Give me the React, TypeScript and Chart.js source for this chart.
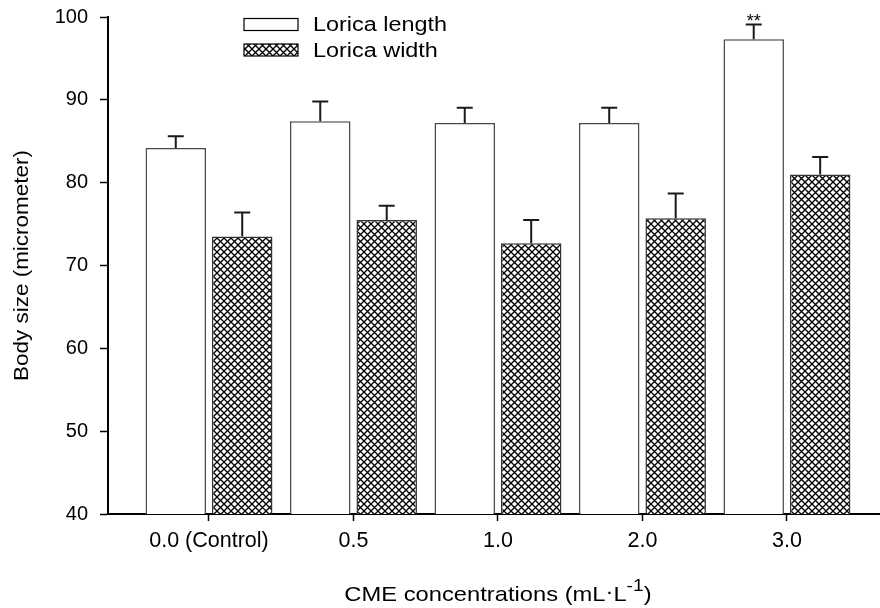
import React, { useEffect, useRef } from "react";
import { Chart, registerables } from "chart.js";

Chart.register(...registerables);

const categories = ["0.0 (Control)", "0.5", "1.0", "2.0", "3.0"];
const loricaLength = [84.2, 87.4, 87.2, 87.2, 97.3];
const loricaLengthErr = [1.4, 2.4, 1.85, 1.85, 1.8];
const loricaWidth = [73.5, 75.5, 72.7, 75.7, 81.0];
const loricaWidthErr = [2.9, 1.7, 2.8, 3.0, 2.1];
const significance = ["", "", "", "", "**"];
const yTicks = [40, 50, 60, 70, 80, 90, 100];
const seriesNames = ["Lorica length", "Lorica width"];
const yTitle = "Body size (micrometer)";

const FAMILY = "'Liberation Sans', Arial, Helvetica, sans-serif";

function makeHatch(ctx: CanvasRenderingContext2D): CanvasPattern | string {
  const s = 7;
  const c = document.createElement("canvas");
  c.width = s;
  c.height = s;
  const g = c.getContext("2d");
  if (!g) return "#888";
  g.fillStyle = "#ffffff";
  g.fillRect(0, 0, s, s);
  g.strokeStyle = "#000000";
  g.lineWidth = 1.35;
  g.beginPath();
  g.moveTo(-1, -1);
  g.lineTo(s + 1, s + 1);
  g.moveTo(s + 1, -1);
  g.lineTo(-1, s + 1);
  g.stroke();
  return ctx.createPattern(c, "repeat") || "#888";
}

function stretchedText(
  ctx: CanvasRenderingContext2D,
  text: string,
  x: number,
  y: number,
  sx: number
) {
  ctx.save();
  ctx.translate(x, y);
  ctx.scale(sx, 1);
  ctx.fillText(text, 0, 0);
  ctx.restore();
}

export default function App() {
  const ref = useRef<HTMLCanvasElement | null>(null);

  useEffect(() => {
    const canvas = ref.current;
    if (!canvas) return;
    const ctx0 = canvas.getContext("2d");
    if (!ctx0) return;
    const hatch = makeHatch(ctx0);
    const errs = [loricaLengthErr, loricaWidthErr];

    const overlay = {
      id: "overlay",
      afterDatasetsDraw(chart: any) {
        const ctx: CanvasRenderingContext2D = chart.ctx;
        const ys = chart.scales.y;
        chart.data.datasets.forEach((ds: any, di: number) => {
          const meta = chart.getDatasetMeta(di);
          meta.data.forEach((bar: any, i: number) => {
            const v = ds.data[i].y;
            const base = ys.getPixelForValue(v);
            const top = ys.getPixelForValue(v + errs[di][i]);
            ctx.save();
            ctx.strokeStyle = "#1a1a1a";
            ctx.lineWidth = 2;
            ctx.beginPath();
            ctx.moveTo(bar.x, base);
            ctx.lineTo(bar.x, top);
            ctx.moveTo(bar.x - 8, top);
            ctx.lineTo(bar.x + 8, top);
            ctx.stroke();
            if (di === 0 && significance[i]) {
              ctx.fillStyle = "#000";
              ctx.font = `18px ${FAMILY}`;
              ctx.textAlign = "center";
              ctx.textBaseline = "alphabetic";
              ctx.fillText(significance[i], bar.x, top + 3);
            }
            ctx.restore();
          });
        });
      },
      afterDraw(chart: any) {
        const ctx: CanvasRenderingContext2D = chart.ctx;
        const area = chart.chartArea;
        const xs = chart.scales.x;
        ctx.save();
        // legend
        const fills = [chart.data.datasets[0].backgroundColor, chart.data.datasets[1].backgroundColor];
        const rows = [24.5, 50];
        rows.forEach((cy, k) => {
          ctx.fillStyle = fills[k];
          ctx.fillRect(244, cy - 6, 54, 12);
          ctx.strokeStyle = "#000";
          ctx.lineWidth = 1.2;
          ctx.strokeRect(244, cy - 6, 54, 12);
          ctx.fillStyle = "#000";
          ctx.font = `20px ${FAMILY}`;
          ctx.textAlign = "left";
          ctx.textBaseline = "middle";
          stretchedText(ctx, seriesNames[k], 313, cy + 1, 1.17);
        });
        // y title
        ctx.save();
        ctx.translate(22, (area.top + area.bottom) / 2);
        ctx.rotate(-Math.PI / 2);
        ctx.scale(1.07, 1);
        ctx.font = `21px ${FAMILY}`;
        ctx.textAlign = "center";
        ctx.textBaseline = "middle";
        ctx.fillStyle = "#000";
        ctx.fillText(yTitle, 0, 0);
        ctx.restore();
        // x title with superscript
        const sx = 1.13;
        const main = `21px ${FAMILY}`;
        const sup = `17px ${FAMILY}`;
        const parts = [
          { t: "CME concentrations (mL", f: main, dy: 0 },
          { t: "\u00B7", f: main, dy: -3 },
          { t: "L", f: main, dy: 0 },
          { t: "-1", f: sup, dy: -10 },
          { t: ")", f: main, dy: 0 },
        ];
        let total = 0;
        parts.forEach((p) => {
          ctx.font = p.f;
          total += ctx.measureText(p.t).width;
        });
        const cx = (xs.getPixelForValue(0) + xs.getPixelForValue(categories.length - 1)) / 2;
        const baseline = 601;
        ctx.save();
        ctx.translate(cx - (total * sx) / 2, baseline);
        ctx.scale(sx, 1);
        ctx.fillStyle = "#000";
        ctx.textAlign = "left";
        ctx.textBaseline = "alphabetic";
        let x = 0;
        parts.forEach((p) => {
          ctx.font = p.f;
          ctx.fillText(p.t, x, p.dy);
          x += ctx.measureText(p.t).width;
        });
        ctx.restore();
        ctx.restore();
      },
    };

    const chart = new Chart(canvas, {
      type: "bar",
      data: {
        datasets: [
          {
            label: seriesNames[0],
            data: loricaLength.map((v, i) => ({ x: i, y: v })),
            backgroundColor: "#ffffff",
            borderColor: "#4a4a4a",
            borderWidth: 1.5,
          },
          {
            label: seriesNames[1],
            data: loricaWidth.map((v, i) => ({ x: i, y: v })),
            backgroundColor: hatch as any,
            borderColor: "#333333",
            borderWidth: 1.5,
          },
        ],
      },
      options: {
        animation: false,
        responsive: false,
        maintainAspectRatio: false,
        layout: { padding: { top: 17, right: 0, left: 0, bottom: 0 } },
        datasets: { bar: { categoryPercentage: 0.92, barPercentage: 0.91 } },
        plugins: { legend: { display: false }, tooltip: { enabled: false } },
        scales: {
          x: {
            type: "linear",
            offset: false,
            min: -0.699,
            max: 4.644,
            afterBuildTicks: (s: any) => {
              s.ticks = categories.map((_, i) => ({ value: i }));
            },
            afterFit: (s: any) => {
              s.height = 94;
              s.paddingLeft = 0;
              s.paddingRight = 0;
            },
            grid: {
              display: true,
              offset: false,
              drawOnChartArea: false,
              drawTicks: true,
              tickLength: 7,
              tickColor: "#000",
              tickWidth: 1.5,
            },
            border: { display: true, color: "#000", width: 2 },
            ticks: {
              color: "#000",
              font: { family: FAMILY, size: 21.5 },
              padding: 7,
              maxRotation: 0,
              autoSkip: false,
              callback: (v: any) => categories[Math.round(Number(v))] ?? "",
            },
          },
          y: {
            type: "linear",
            min: 40,
            max: 100,
            afterBuildTicks: (s: any) => {
              s.ticks = yTicks.map((v) => ({ value: v }));
            },
            afterFit: (s: any) => {
              s.width = 108;
              s.paddingTop = 0;
              s.paddingBottom = 0;
            },
            grid: {
              display: true,
              drawOnChartArea: false,
              drawTicks: true,
              tickLength: 8,
              tickColor: "#000",
              tickWidth: 1.5,
            },
            border: { display: true, color: "#000", width: 2 },
            ticks: {
              color: "#000",
              font: { family: FAMILY, size: 20 },
              padding: 12,
              callback: (v: any) => String(v),
            },
          },
        },
      } as any,
      plugins: [overlay],
    });

    return () => chart.destroy();
  }, []);

  return (
    <div style={{ position: "fixed", left: 0, top: 0, width: 880, height: 608, background: "#fff" }}>
      <canvas ref={ref} width={880} height={608} style={{ display: "block", width: 880, height: 608 }} />
    </div>
  );
}
